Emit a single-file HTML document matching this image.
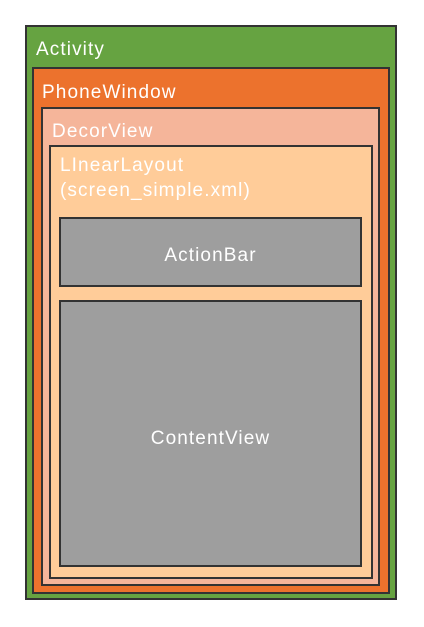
<!DOCTYPE html>
<html><head><style>
html,body{margin:0;padding:0;width:424px;height:627px;background:#fff;overflow:hidden}
div.b{position:absolute;box-sizing:border-box;border:2px solid #333;}
.t{position:absolute;color:#fff;font-family:"Liberation Sans",sans-serif;font-size:19px;letter-spacing:1.1px;line-height:22px;white-space:nowrap}
</style></head><body>
<div class="b" style="left:25px;top:25px;width:372px;height:575px;background:#66a341"></div>
<div class="b" style="left:32px;top:67px;width:358px;height:527px;background:#ec722d"></div>
<div class="b" style="left:41px;top:107px;width:339px;height:479px;background:#f5b59a"></div>
<div class="b" style="left:49px;top:145px;width:324px;height:434px;background:#ffcc99"></div>
<div class="b" style="left:59px;top:217px;width:303px;height:70px;background:#9e9e9e"></div>
<div class="b" style="left:59px;top:300px;width:303px;height:267px;background:#9e9e9e"></div>
<div class="t" style="left:36px;top:39px">Activity</div>
<div class="t" style="left:42px;top:82px">PhoneWindow</div>
<div class="t" style="left:52px;top:121px">DecorView</div>
<div class="t" style="left:60px;top:153px;line-height:25px">LInearLayout<br>(screen_simple.xml)</div>
<div class="t" style="left:59px;width:303px;top:245px;text-align:center">ActionBar</div>
<div class="t" style="left:59px;width:303px;top:428px;text-align:center">ContentView</div>
</body></html>
